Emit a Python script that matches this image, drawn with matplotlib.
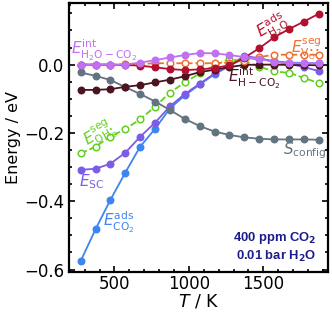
import numpy as np
import matplotlib
matplotlib.use("Agg")
from matplotlib import pyplot as plt
from matplotlib.ticker import MultipleLocator

T = 273 + 100 * np.arange(17)

e_ads_co2 = [-0.575, -0.482, -0.396, -0.316, -0.240, -0.188, -0.128, -0.090, -0.058,
             -0.028, -0.004, 0.020, 0.016, 0.010, 0.006, 0.005, 0.004]
e_sc = [-0.308, -0.305, -0.290, -0.258, -0.211, -0.170, -0.122, -0.086, -0.056,
        -0.026, -0.002, 0.025, 0.019, 0.009, 0.002, -0.007, -0.019]
e_seg_oh = [-0.260, -0.240, -0.211, -0.189, -0.160, -0.123, -0.082, -0.052, -0.026,
            -0.002, 0.016, 0.009, -0.006, -0.020, -0.024, -0.039, -0.054]
s_config = [-0.023, -0.033, -0.045, -0.066, -0.086, -0.108, -0.133, -0.159, -0.180,
            -0.196, -0.206, -0.213, -0.217, -0.219, -0.219, -0.219, -0.220]
e_int_hco2 = [-0.074, -0.074, -0.072, -0.065, -0.060, -0.052, -0.044, -0.034, -0.022,
              -0.015, -0.007, -0.001, 0.000, 0.000, -0.001, -0.001, -0.002]
e_seg_vo = [0.0, 0.0, 0.0, 0.001, 0.002, 0.004, 0.004, 0.004, 0.004,
            0.004, 0.006, 0.012, 0.022, 0.029, 0.029, 0.029, 0.029]
e_ads_h2o = [0.0, 0.0, 0.0, -0.001, -0.003, -0.008, -0.013, -0.016, -0.014,
             -0.010, -0.002, 0.020, 0.048, 0.080, 0.104, 0.126, 0.149]
e_int_h2oco2 = [0.0, 0.0, 0.0, 0.0, 0.006, 0.013, 0.021, 0.028, 0.034,
                0.033, 0.028, 0.022, 0.016, 0.009, 0.004, 0.004, 0.004]

c_co2 = "#3d85f0"
c_sc = "#7b5ce6"
c_oh = "#62d01e"
c_s = "#627480"
c_hco2 = "#4a1420"
c_vo = "#f07030"
c_h2o = "#b2102f"
c_int = "#c070f0"

fig = plt.figure(figsize=(3.32, 3.14), dpi=100)
ax = fig.add_axes([0.208, 0.134, 0.78, 0.856])

kw = dict(lw=1.3, ms=4.7)
ax.plot(T, e_ads_co2, "o-", color=c_co2, **kw)
ax.plot(T, e_sc, "o-", color=c_sc, **kw)
ax.plot(T, e_seg_oh, "o--", color=c_oh, mfc="white", mew=1.1, **kw)
ax.plot(T, s_config, "o-", color=c_s, **kw)
ax.plot(T, e_int_hco2, "o-", color=c_hco2, **kw)
ax.plot(T, e_seg_vo, "o--", color=c_vo, mfc="white", mew=1.1, **kw)
ax.plot(T, e_ads_h2o, "o-", color=c_h2o, **kw)
ax.plot(T, e_int_h2oco2, "o-", color=c_int, **kw)

fs = 11
ax.text(205, 0.03, r"$E^{\mathrm{int}}_{\mathrm{H_2O-CO_2}}$", color=c_int, fontsize=fs)
ax.text(265, -0.232, r"$E^{\mathrm{seg}}_{\mathrm{OH_O^{\bullet}}}$", color=c_oh,
        fontsize=fs, rotation=30)
ax.text(265, -0.355, r"$E_{\mathrm{SC}}$", color=c_sc, fontsize=fs)
ax.text(420, -0.475, r"$E^{\mathrm{ads}}_{\mathrm{CO_2}}$", color=c_co2, fontsize=fs)
ax.text(1425, 0.08, r"$E^{\mathrm{ads}}_{\mathrm{H_2O}}$", color=c_h2o, fontsize=fs,
        rotation=30)
ax.text(1685, 0.035, r"$E^{\mathrm{seg}}_{\mathrm{V_O^{\bullet\bullet}}}$", color=c_vo,
        fontsize=fs)
ax.text(1265, -0.052, r"$E^{\mathrm{int}}_{\mathrm{H-CO_2}}$", color=c_hco2, fontsize=fs)
ax.text(1630, -0.264, r"$S_{\mathrm{config}}$", color=c_s, fontsize=fs)

ax.text(1860, -0.583, "400 ppm CO$_\\mathbf{2}$\n0.01 bar H$_\\mathbf{2}$O", color="#1c1c8c",
        fontsize=9.4, fontweight="bold", family="Liberation Sans", ha="right",
        va="bottom", linespacing=1.2)

ax.set_xlim(195, 1935)
ax.set_ylim(-0.607, 0.18)
ax.xaxis.set_major_locator(MultipleLocator(500))
ax.xaxis.set_minor_locator(MultipleLocator(100))
ax.yaxis.set_major_locator(MultipleLocator(0.2))
ax.yaxis.set_minor_locator(MultipleLocator(0.05))
ax.tick_params(which="both", direction="in", top=True, right=True, width=1.2,
               labelsize=12)
ax.tick_params(which="major", length=4.5)
ax.tick_params(which="minor", length=2.5)
ax.tick_params(axis="x", pad=2)
for s in ax.spines.values():
    s.set_linewidth(1.6)

ax.set_xlabel(r"$T$ / K", fontsize=12.5, labelpad=0)
ax.set_ylabel("Energy / eV", fontsize=11.5, labelpad=2)

fig.savefig("out.png", dpi=100)
